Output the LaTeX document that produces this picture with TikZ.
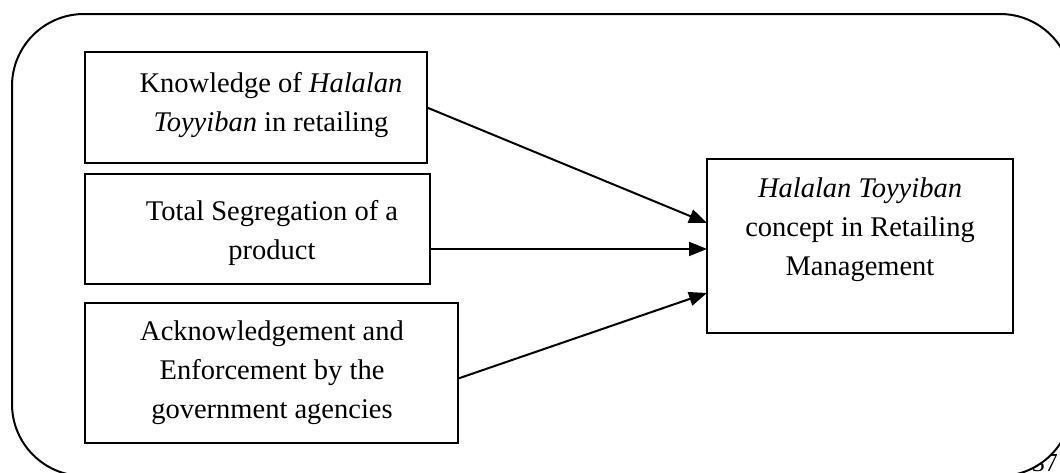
\documentclass[tikz,border=0pt]{standalone}
\usepackage{fontspec}
\setmainfont{Liberation Serif}
\usetikzlibrary{arrows.meta,calc}
\tikzset{
  factorbox/.style={draw, line width=1.7pt, inner sep=0pt, outer sep=0pt, anchor=north west},
  boxtext/.style={anchor=north, inner sep=0pt, align=center,
    font=\fontsize{28.5}{39}\selectfont},
  link/.style={line width=2pt, -{Triangle[length=18pt,width=14pt]}}
}
\begin{document}
\begin{tikzpicture}[x=1pt,y=-1pt]
\useasboundingbox (0,0) rectangle (1060,472);
\clip (0,0) rectangle (1060,472);

% page number peeking out below the frame
\node[anchor=base east, inner sep=0pt, font=\fontsize{26}{28}\selectfont] (pg) at (1058,471) {37};

% outer frame
\draw[line width=2pt, fill=white, rounded corners=72pt] (12,14) rectangle (1072,476);

% factor boxes
\node[factorbox, minimum width=342pt, minimum height=111pt] (b1) at (85,52) {};
\node[factorbox, minimum width=345pt, minimum height=110pt] (b2) at (85,174) {};
\node[factorbox, minimum width=373pt, minimum height=140pt] (b3) at (85,303) {};
\node[factorbox, minimum width=306pt, minimum height=174pt] (t) at (707,159) {};

% box texts
\node[boxtext] (l1) at (271,72.5) {Knowledge of \textit{Halalan}\\\textit{Toyyiban} in retailing};
\node[boxtext] (l2) at (272,200.5) {Total Segregation of a\\product};
\node[boxtext] (l3) at (272,320.5) {Acknowledgement and\\Enforcement by the\\government agencies};
\node[boxtext] (lt) at (860,177.5) {\textit{Halalan Toyyiban}\\concept in Retailing\\Management};

% arrow end points on the target box
\coordinate (e1) at ($(t.north west)!0.368!(t.south west)$);
\coordinate (e2) at ($(t.north west)!0.517!(t.south west)$);
\coordinate (e3) at ($(t.north west)!0.770!(t.south west)$);
\coordinate (s3) at ($(b3.north east)!0.54!(b3.south east)$);

\draw[link] (b1.east) -- (e1);
\draw[link] (b2.east |- e2) -- (e2);
\draw[link] (s3) -- (e3);
\end{tikzpicture}
\end{document}
